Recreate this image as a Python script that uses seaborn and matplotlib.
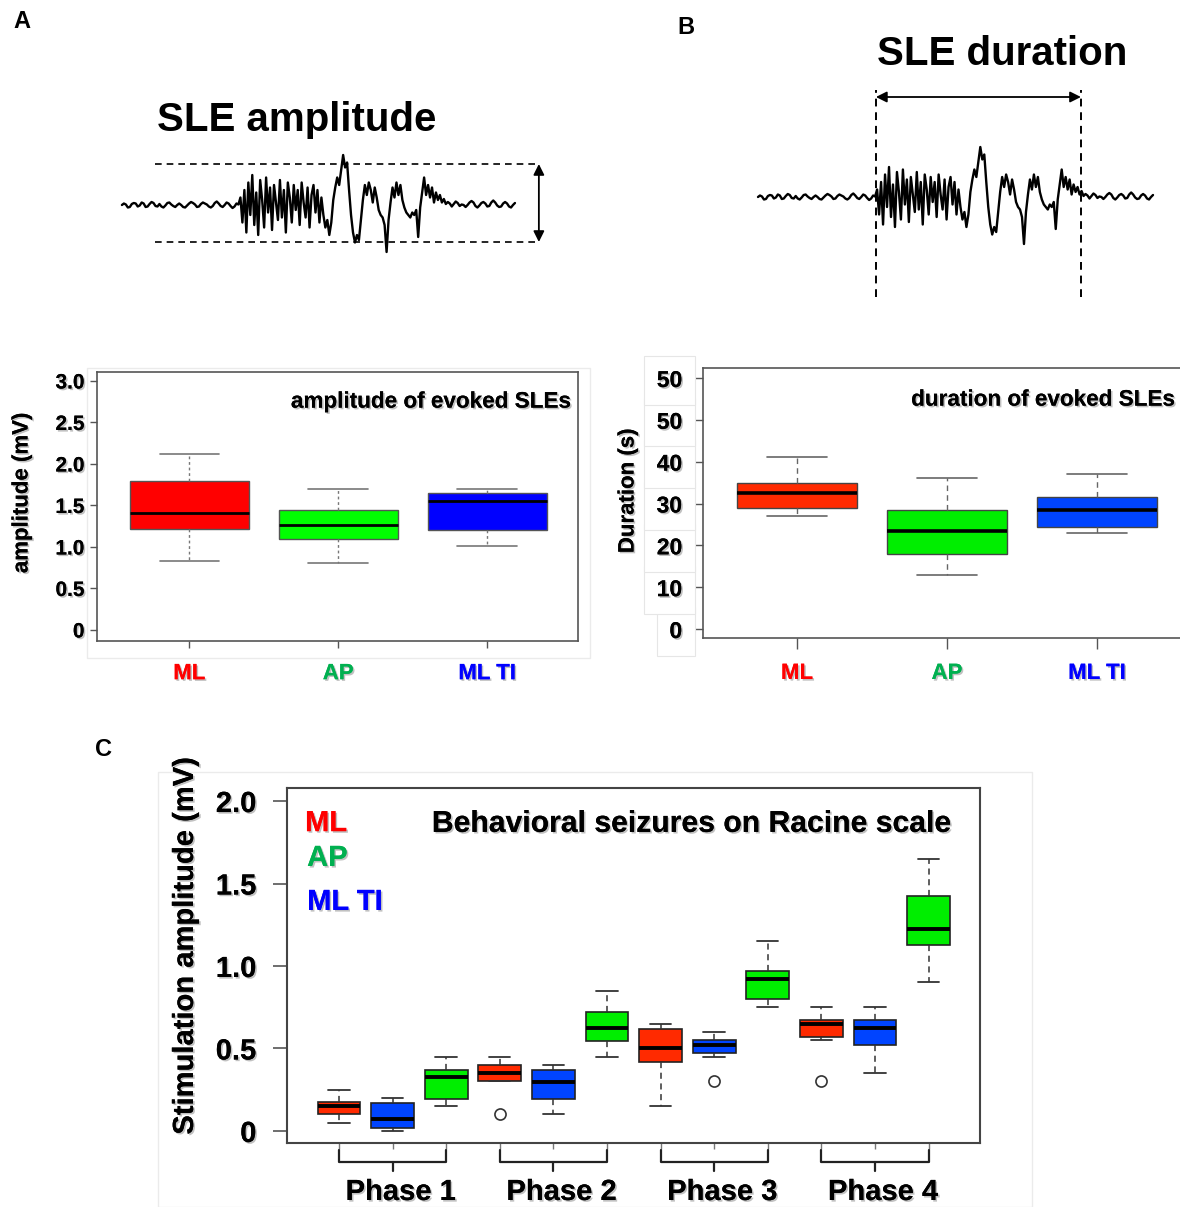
import numpy as np
import pandas as pd
import seaborn as sns
import matplotlib.pyplot as plt
import matplotlib.patheffects as pe
from matplotlib.patches import Rectangle

W, H = 1180, 1207

# ---------------- data ----------------
groups = ["ML", "AP", "ML TI"]

# panel A: amplitude of evoked SLEs (mV)
amp_lo = [0.83, 0.81, 1.01]
amp_q1 = [1.22, 1.10, 1.20]
amp_med = [1.41, 1.27, 1.55]
amp_q3 = [1.79, 1.44, 1.65]
amp_hi = [2.12, 1.70, 1.70]

# panel B: duration of evoked SLEs (s)
dur_lo = [27, 13, 23]
dur_q1 = [29, 18, 24.5]
dur_med = [32.5, 23.5, 28.5]
dur_q3 = [35, 28.5, 31.5]
dur_hi = [41, 36, 37]
dur_ticks = [0, 10, 20, 30, 40, 50, 60]
dur_ticklabels = ["0", "10", "20", "30", "40", "50", "50"]

# panel C: stimulation amplitude per phase (ML, ML TI, AP in each phase)
phases = ["Phase 1", "Phase 2", "Phase 3", "Phase 4"]
stim_groups = ["ML", "ML TI", "AP"]
stim_lo = [0.05, 0.00, 0.15, 0.30, 0.10, 0.45, 0.15, 0.45, 0.75, 0.55, 0.35, 0.90]
stim_q1 = [0.10, 0.02, 0.195, 0.30, 0.195, 0.545, 0.42, 0.47, 0.80, 0.57, 0.52, 1.125]
stim_med = [0.15, 0.07, 0.325, 0.35, 0.295, 0.625, 0.50, 0.52, 0.92, 0.65, 0.625, 1.225]
stim_q3 = [0.175, 0.17, 0.37, 0.40, 0.37, 0.72, 0.62, 0.55, 0.97, 0.67, 0.67, 1.425]
stim_hi = [0.25, 0.20, 0.45, 0.45, 0.40, 0.85, 0.65, 0.60, 1.15, 0.75, 0.75, 1.65]
stim_out = [None, None, None, 0.10, None, None, None, 0.30, None, 0.30, None, None]

# example SLE trace (arbitrary units, baseline 0)
trace = [
    0.00, 0.03, 0.01, -0.05, -0.04, 0.02, 0.04, 0.03, -0.03, -0.01, 0.05, 0.03, -0.04, -0.03, 0.02,
    0.06, 0.04, -0.02, -0.03, 0.02, -0.03, -0.05, -0.01, 0.04, 0.05, 0.01, -0.02, -0.04, 0.00, 0.03,
    0.00, -0.04, -0.05, -0.01, 0.03, 0.06, 0.04, 0.01, -0.04, -0.03, 0.02, 0.05, 0.03, 0.01, -0.03,
    -0.05, -0.02, 0.04, 0.07, 0.03, -0.02, -0.04, 0.00, 0.05, 0.03, -0.02, -0.06, -0.03, 0.03, 0.01,
    0.15, -0.35, 0.30, -0.55, 0.45, -0.20, 0.60, -0.40, 0.25, -0.60, 0.50, 0.10, -0.45, 0.55, -0.15,
    0.35, -0.50, 0.40, 0.05, -0.30, 0.50, -0.25, 0.30, -0.55, 0.45, 0.15, -0.35, 0.40, -0.10, 0.30,
    -0.40, 0.45, 0.05, -0.25, 0.35, -0.45, 0.20, 0.40, -0.15, 0.30, -0.35, 0.15, -0.20, -0.45, -0.30,
    -0.60, -0.35, 0.10, 0.35, 0.55, 0.40, 0.70, 1.00, 0.75, 0.85, 0.30, -0.20, -0.55, -0.75, -0.60,
    -0.70, -0.30,
    0.10, 0.40, 0.20, 0.45, 0.30, 0.05, 0.35, 0.15, -0.10, -0.20, -0.25, -0.40, -0.94, -0.30,
    0.05, 0.35, 0.15, 0.45, 0.20, 0.40, 0.10, -0.05, -0.15, -0.20, -0.25, -0.15, -0.20, -0.10,
    -0.64, -0.05, 0.25, 0.55, 0.20, 0.40, 0.15, 0.35, 0.05, 0.25, 0.10, 0.20, 0.05, 0.12,
    0.02, 0.06, 0.03, -0.03, 0.02, 0.07, 0.04, -0.02, 0.01, 0.00, -0.04, 0.00, 0.05, 0.08, 0.05,
    -0.02, -0.05, -0.01, 0.04, 0.06, 0.03, -0.03, -0.02, 0.05, 0.09, 0.05, -0.01, -0.04, -0.03, 0.03,
    0.06, 0.03, -0.03, -0.05, 0.00, 0.04,
]
amp_top, amp_bottom = 0.82, -0.74
sle_start, sle_end = 59.4, 162.7


def box_sample(lo, q1, med, q3, hi, out=None):
    # 9 values whose quartiles / whiskers reproduce the box
    first = lo if out is None else out
    return [first, lo, q1, q1, med, q3, q3, hi, hi]


amp_df = pd.DataFrame(
    [(g, v) for i, g in enumerate(groups)
     for v in box_sample(amp_lo[i], amp_q1[i], amp_med[i], amp_q3[i], amp_hi[i])],
    columns=["group", "value"])
dur_df = pd.DataFrame(
    [(g, v) for i, g in enumerate(groups)
     for v in box_sample(dur_lo[i], dur_q1[i], dur_med[i], dur_q3[i], dur_hi[i])],
    columns=["group", "value"])
slots = [f"{p} {g}" for p in phases for g in stim_groups]
rows = []
for i, s in enumerate(slots):
    g = stim_groups[i % 3]
    for v in box_sample(stim_lo[i], stim_q1[i], stim_med[i], stim_q3[i], stim_hi[i], stim_out[i]):
        rows.append((s, g, v))
stim_df = pd.DataFrame(rows, columns=["slot", "group", "value"])

# ---------------- style ----------------
sns.set_style("white")
plt.rcParams["font.family"] = ["Liberation Sans", "DejaVu Sans"]
plt.rcParams["font.weight"] = "bold"
for key in ("text.color", "axes.labelcolor", "xtick.color", "ytick.color"):
    plt.rcParams[key] = "black"

shadow = [pe.withSimplePatchShadow(offset=(1.2, -1.2), shadow_rgbFace="#777777", alpha=0.45), pe.Normal()]

colsA = {"ML": "#ff0000", "AP": "#00ff00", "ML TI": "#0000ff"}
colsB = {"ML": "#ff2a00", "AP": "#00ee00", "ML TI": "#0044ff"}
label_cols = {"ML": "#ff0000", "AP": "#00b050", "ML TI": "#0000ff"}

fig = plt.figure(figsize=(W / 100, H / 100), dpi=100)


def ftext(x, y, s, **kw):
    return fig.text(x / W, 1 - y / H, s, **kw)


# faint image borders
fig.patches.append(Rectangle((87 / W, 1 - 658 / H), 503 / W, 290 / H, transform=fig.transFigure,
                             fill=False, ec="#ebebeb", lw=1))
fig.patches.append(Rectangle((158 / W, 0), 874 / W, 1 - 772 / H, transform=fig.transFigure,
                             fill=False, ec="#ebebeb", lw=1))

# ---------------- panel A trace ----------------
axTa = fig.add_axes([100 / W, 1 - 265 / H, 460 / W, 125 / H])
x_idx = np.arange(len(trace))
sns.lineplot(x=x_idx, y=trace, ax=axTa, color="black", linewidth=1.7, estimator=None)
axTa.set_xlim(-11.1, 221.8)
axTa.set_ylim(-1.2, 1.3)
axTa.axis("off")
for yv in (amp_top, amp_bottom):
    axTa.plot([16.7, 211.6], [yv, yv], ls=(0, (4, 3)), color="black", lw=1.2)
axTa.annotate("", xy=(211.1, amp_top), xytext=(211.1, amp_bottom),
              arrowprops=dict(arrowstyle="<|-|>", color="black", lw=1.3, mutation_scale=16,
                              shrinkA=0, shrinkB=0))
ftext(297, 120, "SLE amplitude", fontsize=29, ha="center", va="center")

# ---------------- panel B trace ----------------
axTb = fig.add_axes([740 / W, 1 - 305 / H, 440 / W, 225 / H])
sns.lineplot(x=x_idx, y=trace, ax=axTb, color="black", linewidth=1.7, estimator=None)
axTb.set_xlim(-9.07, 212.6)
axTb.set_ylim(-2.16, 2.34)
axTb.axis("off")
for xv in (sle_start, sle_end):
    axTb.plot([xv, xv], [-2.0, 2.14], ls=(0, (4, 3)), color="black", lw=1.4)
axTb.annotate("", xy=(sle_start, 2.0), xytext=(sle_end, 2.0),
              arrowprops=dict(arrowstyle="<|-|>", color="black", lw=1.3, mutation_scale=16,
                              shrinkA=0, shrinkB=0))
ftext(1002, 54, "SLE duration", fontsize=29, ha="center", va="center")

# panel letters
ftext(22, 22, "A", fontsize=17, ha="center", va="center")
ftext(686, 28, "B", fontsize=17, ha="center", va="center")
ftext(104, 750, "C", fontsize=17, ha="center", va="center")

# ---------------- panel A boxplot ----------------
axA = fig.add_axes([97 / W, 1 - 641 / H, 481 / W, 269 / H])
sns.boxplot(data=amp_df, x="group", y="value", hue="group", order=groups, hue_order=groups,
            palette=colsA, saturation=1, width=0.8, linewidth=1, linecolor="#555555",
            legend=False, showfliers=False, ax=axA,
            medianprops=dict(color="black", linewidth=2),
            whiskerprops=dict(linestyle=(0, (2, 2)), color="#777777", linewidth=1),
            capprops=dict(color="#777777", linewidth=1.2))
axA.set_xlim(-0.62, 2.61)
axA.set_ylim(-0.133, 3.108)
axA.set_yticks([0, 0.5, 1.0, 1.5, 2.0, 2.5, 3.0])
axA.set_yticklabels(["0", "0.5", "1.0", "1.5", "2.0", "2.5", "3.0"])
axA.set_xlabel("")
axA.set_ylabel("")
axA.tick_params(axis="y", left=True, length=5, width=1, color="#555555", pad=4, labelsize=15)
axA.tick_params(axis="x", bottom=True, length=5, width=1, color="#555555", pad=11, labelsize=16)
axA.text(0.9855, 0.888, "amplitude of evoked SLEs", transform=axA.transAxes, ha="right",
         va="center", fontsize=16.2, path_effects=shadow)
ftext(22, 493, "amplitude (mV)", rotation=90, fontsize=16, ha="center", va="center",
      path_effects=shadow)

# ---------------- panel B boxplot ----------------
axB = fig.add_axes([703 / W, 1 - 638 / H, 487 / W, 270 / H])
sns.boxplot(data=dur_df, x="group", y="value", hue="group", order=groups, hue_order=groups,
            palette=colsB, saturation=1, width=0.8, linewidth=1, linecolor="#444444",
            legend=False, showfliers=False, ax=axB,
            medianprops=dict(color="black", linewidth=2.6),
            whiskerprops=dict(linestyle=(0, (4, 3)), color="#666666", linewidth=1),
            capprops=dict(color="#666666", linewidth=1.2))
axB.set_xlim(-0.627, 2.62)
axB.set_ylim(-2.15, 62.39)
axB.set_yticks(dur_ticks)
axB.set_yticklabels(dur_ticklabels)
axB.set_xlabel("")
axB.set_ylabel("")
axB.tick_params(axis="y", left=True, length=9, width=1, color="#555555", pad=6, labelsize=16.5)
axB.tick_params(axis="x", bottom=True, length=8, width=1, color="#555555", pad=10, labelsize=16)
for t in axB.get_yticklabels():
    t.set_bbox(dict(boxstyle="square,pad=0.55", fc="white", ec="#e6e6e6", lw=0.8))
axB.text(0.969, 0.881, "duration of evoked SLEs", transform=axB.transAxes, ha="right",
         va="center", fontsize=16.2, path_effects=shadow)
ftext(628, 491, "Duration (s)", rotation=90, fontsize=16, ha="center", va="center",
      path_effects=shadow)

for ax in (axA, axB):
    for sp in ax.spines.values():
        sp.set_color("#555555")
        sp.set_linewidth(1.2)
    for t, g in zip(ax.get_xticklabels(), groups):
        t.set_color(label_cols[g])
        t.set_path_effects(shadow)
    for t in ax.get_yticklabels():
        t.set_path_effects(shadow)

# ---------------- panel C boxplot ----------------
axC = fig.add_axes([287 / W, 1 - 1143 / H, 693 / W, 355 / H])
sns.boxplot(data=stim_df, x="slot", y="value", hue="group", order=slots, hue_order=stim_groups,
            palette=colsB, saturation=1, width=0.8, dodge=False, linewidth=1.2,
            linecolor="#222222", legend=False, ax=axC,
            medianprops=dict(color="black", linewidth=2.8),
            whiskerprops=dict(linestyle=(0, (4, 3)), color="#333333", linewidth=1.1),
            capprops=dict(color="#333333", linewidth=1.3),
            flierprops=dict(marker="o", markersize=8, markerfacecolor="white",
                            markeredgecolor="#333333", markeredgewidth=1.2))
axC.set_xlim(-0.97, 11.96)
axC.set_ylim(-0.073, 2.079)
axC.set_yticks([0, 0.5, 1.0, 1.5, 2.0])
axC.set_yticklabels(["0", "0.5", "1.0", "1.5", "2.0"])
axC.set_xticks(range(len(slots)))
axC.set_xticklabels([])
axC.set_xlabel("")
axC.set_ylabel("")
axC.tick_params(axis="y", left=True, length=10, width=1.2, color="#555555", pad=12, labelsize=21)
axC.tick_params(axis="x", bottom=True, length=4, width=1, color="#777777")
for t in axC.get_yticklabels():
    t.set_path_effects(shadow)
for sp in axC.spines.values():
    sp.set_color("#444444")
    sp.set_linewidth(1.5)

axC.text(0.957, 0.899, "Behavioral seizures on Racine scale", transform=axC.transAxes,
         ha="right", va="center", fontsize=21.7, path_effects=shadow)
for g, (xf, yf) in zip(["ML", "AP", "ML TI"], [(0.026, 0.901), (0.029, 0.803), (0.029, 0.679)]):
    axC.text(xf, yf, g, transform=axC.transAxes, ha="left", va="center", fontsize=21,
             color=label_cols[g], path_effects=shadow)
ftext(185, 946, "Stimulation amplitude (mV)", rotation=90, fontsize=21, ha="center",
      va="center", path_effects=shadow)

# phase brackets
trans = axC.get_xaxis_transform()
for k, ph in enumerate(phases):
    x0, xm, x1 = 3 * k, 3 * k + 1, 3 * k + 2
    axC.plot([x0, x0, x1, x1], [-0.02, -0.0535, -0.0535, -0.02], transform=trans,
             color="#222222", lw=1.6, clip_on=False)
    axC.plot([xm, xm], [-0.0535, -0.079], transform=trans, color="#222222", lw=1.6,
             clip_on=False)
    axC.text(xm + 0.15, -0.138, ph, transform=trans, ha="center", va="center", fontsize=21,
             path_effects=shadow)

fig.savefig("out.png", dpi=100)
